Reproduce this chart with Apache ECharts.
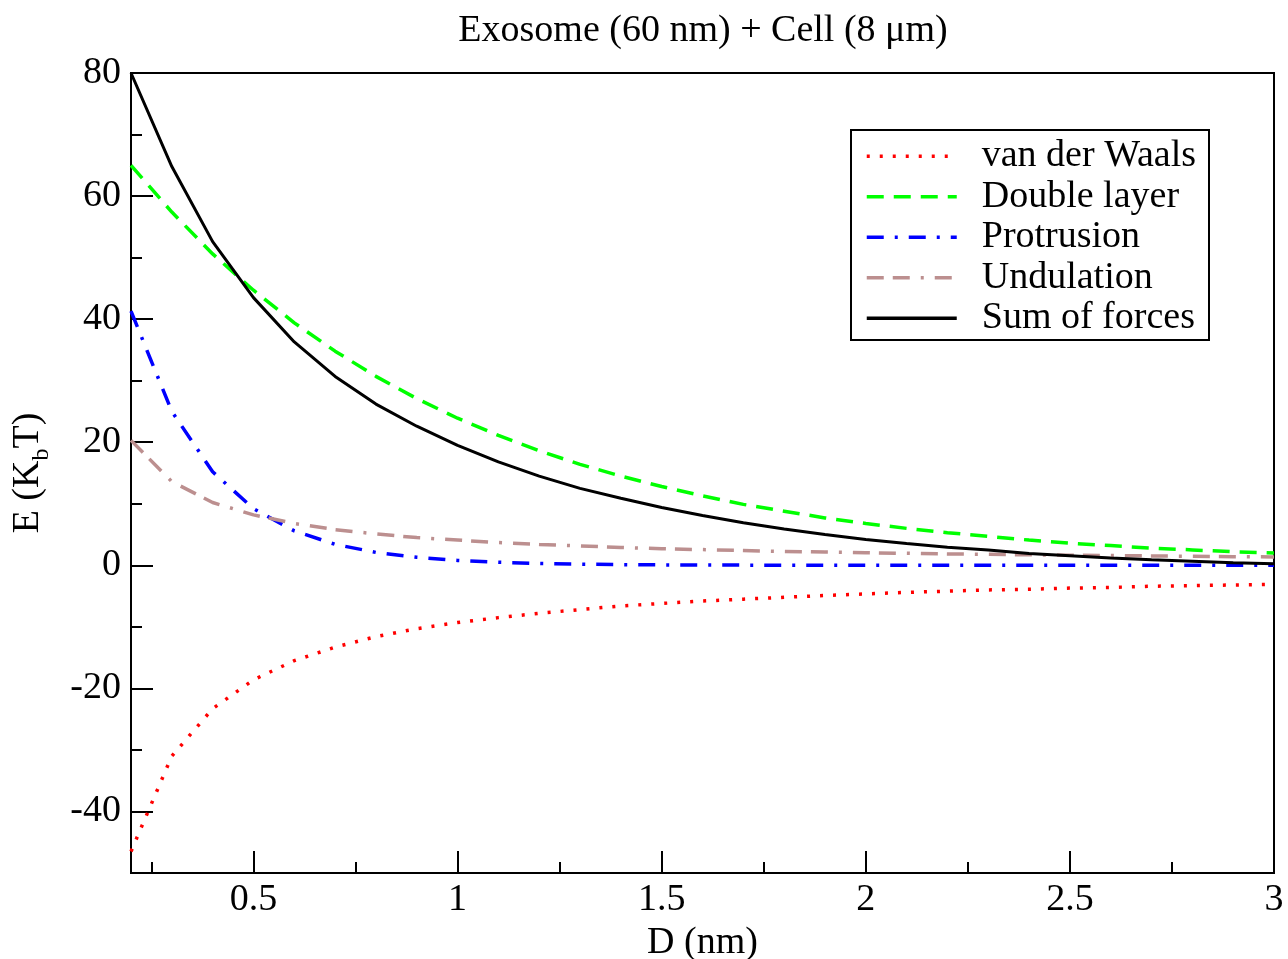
<!DOCTYPE html>
<html>
<head>
<meta charset="utf-8">
<script src="https://cdn.jsdelivr.net/npm/echarts@6/dist/echarts.min.js"></script>
<style>
  html, body { margin: 0; padding: 0; background: #ffffff; }
  #chart { width: 1288px; height: 959px; }
</style>
</head>
<body>
<div id="chart"></div>
<script>
// Separation distance D (nm)
const distance = [0.2, 0.3, 0.4, 0.5, 0.6, 0.7, 0.8, 0.9, 1.0, 1.1, 1.2, 1.3, 1.4, 1.5, 1.6,
                  1.7, 1.8, 1.9, 2.0, 2.1, 2.2, 2.3, 2.4, 2.5, 2.6, 2.7, 2.8, 2.9, 3.0];

// Interaction energies E (KbT)
const vanDerWaals = [-46.5, -31.0, -23.3, -18.6, -15.5, -13.3, -11.6, -10.3, -9.3, -8.5, -7.8, -7.2, -6.6, -6.2, -5.8,
                     -5.5, -5.2, -4.9, -4.65, -4.4, -4.2, -4.0, -3.9, -3.7, -3.6, -3.4, -3.3, -3.2, -3.1];
const doubleLayer = [65.0, 57.4, 50.6, 44.7, 39.4, 34.8, 30.7, 27.1, 23.9, 21.1, 18.6, 16.4, 14.5, 12.8, 11.3,
                     9.9, 8.8, 7.7, 6.8, 6.0, 5.3, 4.7, 4.1, 3.6, 3.2, 2.8, 2.5, 2.2, 2.0];
const protrusion = [41.3, 25.0, 15.2, 9.2, 5.6, 3.4, 2.1, 1.3, 0.8, 0.5, 0.3, 0.18, 0.11, 0.07, 0.04,
                    0.03, 0.02, 0.01, 0, 0, 0, 0, 0, 0, 0, 0, 0, 0, 0];
const undulation = [20.3, 13.6, 10.2, 8.2, 6.8, 5.8, 5.1, 4.5, 4.1, 3.7, 3.4, 3.15, 2.9, 2.7, 2.55,
                    2.4, 2.25, 2.15, 2.05, 1.95, 1.85, 1.78, 1.7, 1.64, 1.58, 1.52, 1.46, 1.41, 1.37];
const sumOfForces = [80.0, 64.8, 52.6, 43.5, 36.3, 30.7, 26.2, 22.6, 19.5, 16.8, 14.5, 12.5, 10.9, 9.4, 8.1,
                     6.9, 5.9, 5.0, 4.2, 3.55, 2.95, 2.5, 1.9, 1.55, 1.2, 0.9, 0.65, 0.4, 0.27];

// Axis ticks
const xMajorTicks = [0.5, 1, 1.5, 2, 2.5, 3];
const xMinorTicks = [0.25, 0.75, 1.25, 1.75, 2.25, 2.75];
const yMajorTicks = [-40, -20, 0, 20, 40, 60, 80];
const yMinorTicks = [-30, -10, 10, 30, 50, 70];

const seriesNames = ['van der Waals', 'Double layer', 'Protrusion', 'Undulation', 'Sum of forces'];

const FONT = '"Liberation Serif", "Times New Roman", Times, serif';
const BLACK = '#000000';

function pairs(ys) {
  return distance.map((x, i) => [x, ys[i]]);
}

const chart = echarts.init(document.getElementById('chart'), null, { renderer: 'canvas' });

const axisLineStyle = { color: BLACK, width: 2 };

const option = {
  backgroundColor: '#ffffff',
  animation: false,
  grid: {
    left: 131, right: 14, top: 73, bottom: 86,
    containLabel: false,
    outerBoundsMode: 'none',
    show: true, borderColor: BLACK, borderWidth: 2, backgroundColor: 'transparent'
  },
  graphic: [{
    type: 'text',
    x: 703, y: 31,
    style: {
      text: 'Exosome (60 nm) + Cell (8 μm)',
      font: '38px ' + FONT,
      fill: BLACK,
      textAlign: 'center',
      textVerticalAlign: 'middle'
    }
  }, {
    type: 'rect',
    shape: { x: 851, y: 130, width: 358, height: 210 },
    style: { fill: 'transparent', stroke: BLACK, lineWidth: 2 },
    z: 10
  }],
  legend: {
    show: true,
    orient: 'vertical',
    left: 865, top: 136,
    itemWidth: 90, itemHeight: 20, itemGap: 0,
    selectedMode: false,
    padding: 0,
    data: seriesNames,
    itemStyle: { color: 'transparent', borderWidth: 0, opacity: 0 },
    lineStyle: { width: 3.5 },
    textStyle: { fontFamily: FONT, fontSize: 38, color: BLACK, lineHeight: 40.5, padding: [0, 0, 0, 20] }
  },
  xAxis: [{
    type: 'value', min: 0.2, max: 3, position: 'bottom',
    name: 'D (nm)', nameLocation: 'middle', nameGap: 46,
    nameTextStyle: { fontFamily: FONT, fontSize: 38, color: BLACK },
    axisLine: { show: true, onZero: false, lineStyle: axisLineStyle },
    axisTick: { show: true, inside: true, length: 22, lineStyle: axisLineStyle, customValues: xMajorTicks },
    axisLabel: { show: true, margin: 8, fontFamily: FONT, fontSize: 38, color: BLACK, customValues: xMajorTicks },
    splitLine: { show: false }
  }, {
    type: 'value', min: 0.2, max: 3, position: 'bottom',
    axisLine: { show: false, onZero: false },
    axisTick: { show: true, inside: true, length: 11, lineStyle: axisLineStyle, customValues: xMinorTicks },
    axisLabel: { show: false },
    splitLine: { show: false }
  }],
  yAxis: [{
    type: 'value', min: -50, max: 80, position: 'left',
    name: '{a|E (K}{b|b}{a|T)}', nameLocation: 'middle', nameGap: 77, nameRotate: 90,
    nameTextStyle: {
      color: BLACK,
      rich: {
        a: { fontFamily: FONT, fontSize: 38, color: BLACK },
        b: { fontFamily: FONT, fontSize: 24, color: BLACK, padding: [28, 0, 0, 0] }
      }
    },
    axisLine: { show: true, onZero: false, lineStyle: axisLineStyle },
    axisTick: { show: true, inside: true, length: 22, lineStyle: axisLineStyle, customValues: yMajorTicks },
    axisLabel: { show: true, margin: 10, fontFamily: FONT, fontSize: 38, color: BLACK, customValues: yMajorTicks },
    splitLine: { show: false }
  }, {
    type: 'value', min: -50, max: 80, position: 'left',
    axisLine: { show: false, onZero: false },
    axisTick: { show: true, inside: true, length: 11, lineStyle: axisLineStyle, customValues: yMinorTicks },
    axisLabel: { show: false },
    splitLine: { show: false }
  }],
  series: [{
    name: 'van der Waals', type: 'line', data: pairs(vanDerWaals),
    showSymbol: false, symbol: 'none', color: '#ff0000',
    lineStyle: { color: '#ff0000', width: 3.5, type: [3, 10], cap: 'butt' }
  }, {
    name: 'Double layer', type: 'line', data: pairs(doubleLayer),
    showSymbol: false, symbol: 'none', color: '#00ff00',
    lineStyle: { color: '#00ff00', width: 3.5, type: [17, 10], cap: 'butt' }
  }, {
    name: 'Protrusion', type: 'line', data: pairs(protrusion),
    showSymbol: false, symbol: 'none', color: '#0000ff',
    lineStyle: { color: '#0000ff', width: 3.5, type: [17, 11, 3, 11], cap: 'butt' }
  }, {
    name: 'Undulation', type: 'line', data: pairs(undulation),
    showSymbol: false, symbol: 'none', color: '#bc8f8f',
    lineStyle: { color: '#bc8f8f', width: 3.5, type: [17, 9, 17, 11, 3, 11], cap: 'butt' }
  }, {
    name: 'Sum of forces', type: 'line', data: pairs(sumOfForces),
    showSymbol: false, symbol: 'none', color: BLACK,
    lineStyle: { color: BLACK, width: 3, type: 'solid' }
  }]
};

chart.setOption(option);
</script>
</body>
</html>
